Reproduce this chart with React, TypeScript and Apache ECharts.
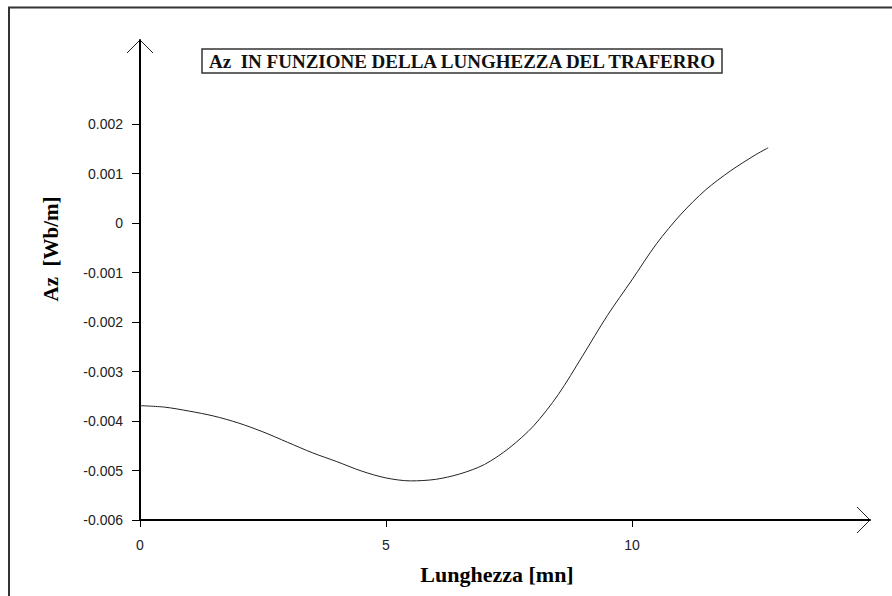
import React, { useEffect, useRef } from "react";
import * as echarts from "echarts";

// Lunghezza del traferro [mm]
const lengthValues = [
  0, 0.5, 1.0, 1.5, 2.0, 2.5, 3.0, 3.5, 4.0, 4.5, 5.0, 5.5, 6.0, 6.5, 7.0, 7.5,
  8.0, 8.5, 9.0, 9.5, 10.0, 10.5, 11.0, 11.5, 12.0, 12.5, 12.77,
];
// Az [Wb/m]
const azValues = [
  -0.00369, -0.00372, -0.0038, -0.0039, -0.00404, -0.00422, -0.00443, -0.00464,
  -0.00482, -0.00501, -0.00515, -0.00521, -0.00518, -0.00507, -0.00488,
  -0.00455, -0.0041, -0.00347, -0.00268, -0.00187, -0.00115, -0.00042, 0.00018,
  0.00067, 0.00105, 0.00137, 0.00152,
];
const yTickValues = [-0.006, -0.005, -0.004, -0.003, -0.002, -0.001, 0, 0.001, 0.002];
const xTickValues = [0, 5, 10];

const titleText = "Az  IN FUNZIONE DELLA LUNGHEZZA DEL TRAFERRO";
const xName = "Lunghezza [mn]";
const yName = "Az  [Wb/m]";

const Y_MIN = -0.006;
const Y_MAX = 0.003697;
const X_MIN = 0;
const X_MAX = 14.84;

const SERIF = "'Liberation Serif', 'DejaVu Serif', serif";
const SANS = "'Liberation Sans', Arial, sans-serif";

export default function App() {
  const ref = useRef<HTMLDivElement>(null);

  useEffect(() => {
    if (!ref.current) return;
    const chart = echarts.init(ref.current, null, { renderer: "svg" });
    const fmt = (v: number) => String(+Number(v).toFixed(3));
    const option: any = {
      animation: false,
      backgroundColor: "#ffffff",
      grid: {
        left: 140,
        top: 40,
        right: 22,
        bottom: 76,
        containLabel: false,
        outerBoundsMode: "none",
      },
      xAxis: {
        type: "value",
        min: X_MIN,
        max: X_MAX,
        interval: 5,
        axisLine: { show: true, onZero: false, lineStyle: { color: "#000", width: 2 } },
        axisTick: {
          show: true,
          length: 7,
          customValues: xTickValues,
          lineStyle: { color: "#000", width: 1 },
        },
        axisLabel: {
          customValues: xTickValues,
          margin: 18,
          fontSize: 14,
          fontFamily: SANS,
          color: "#222",
          formatter: fmt,
        },
        splitLine: { show: false },
      },
      yAxis: {
        type: "value",
        min: Y_MIN,
        max: Y_MAX,
        interval: 0.001,
        axisLine: { show: true, onZero: false, lineStyle: { color: "#000", width: 2 } },
        axisTick: {
          show: true,
          length: 8,
          customValues: yTickValues,
          lineStyle: { color: "#000", width: 1 },
        },
        axisLabel: {
          customValues: yTickValues,
          margin: 17,
          fontSize: 14,
          fontFamily: SANS,
          color: "#222",
          formatter: fmt,
        },
        splitLine: { show: false },
      },
      series: [
        {
          type: "line",
          data: lengthValues.map((x, i) => [x, azValues[i]]),
          showSymbol: false,
          symbol: "none",
          smooth: 0.3,
          lineStyle: { color: "#222", width: 1 },
        },
      ],
    };
    chart.setOption(option);

    const xTip = chart.convertToPixel({ gridIndex: 0 }, [X_MAX, Y_MIN]) as number[];
    const yTip = chart.convertToPixel({ gridIndex: 0 }, [X_MIN, Y_MAX]) as number[];
    const a = 13;

    chart.setOption({
      graphic: [
        {
          type: "rect",
          shape: { x: 9, y: 7.5, width: 900, height: 600 },
          style: { fill: "none", stroke: "#333", lineWidth: 2 },
          silent: true,
        },
        {
          type: "rect",
          shape: { x: 202, y: 49, width: 520, height: 24 },
          style: { fill: "#fff", stroke: "#333", lineWidth: 1.5 },
        },
        {
          type: "text",
          x: 462,
          y: 61.5,
          style: {
            text: titleText,
            fontFamily: SERIF,
            fontSize: 19,
            fontWeight: "bold",
            fill: "#111",
            textAlign: "center",
            textVerticalAlign: "middle",
          },
        },
        {
          type: "text",
          x: 51,
          y: 249,
          rotation: Math.PI / 2,
          style: {
            text: yName,
            fontFamily: SERIF,
            fontSize: 21,
            fontWeight: "bold",
            fill: "#000",
            textAlign: "center",
            textVerticalAlign: "middle",
          },
        },
        {
          type: "text",
          x: 497,
          y: 574,
          style: {
            text: xName,
            fontFamily: SERIF,
            fontSize: 22,
            fontWeight: "bold",
            fill: "#000",
            textAlign: "center",
            textVerticalAlign: "middle",
          },
        },
        {
          type: "polyline",
          shape: {
            points: [
              [xTip[0] - a, xTip[1] - a],
              [xTip[0], xTip[1]],
              [xTip[0] - a, xTip[1] + a],
            ],
          },
          style: { stroke: "#222", lineWidth: 1, fill: "none" },
        },
        {
          type: "polyline",
          shape: {
            points: [
              [yTip[0] - a, yTip[1] + a],
              [yTip[0], yTip[1]],
              [yTip[0] + a, yTip[1] + a],
            ],
          },
          style: { stroke: "#222", lineWidth: 1, fill: "none" },
        },
      ],
    });

    return () => chart.dispose();
  }, []);

  return (
    <div
      ref={ref}
      style={{ position: "fixed", left: 0, top: 0, width: 892, height: 596 }}
    />
  );
}
